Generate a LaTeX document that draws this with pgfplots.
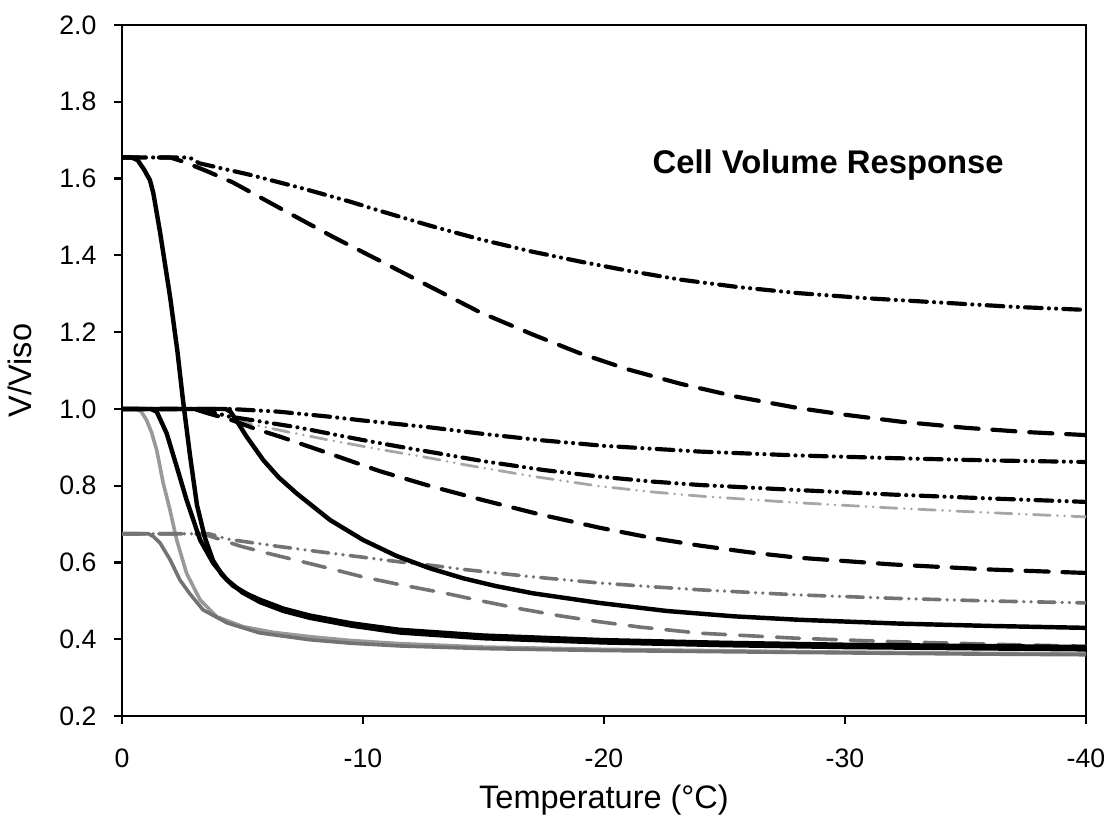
\documentclass[border=0pt]{standalone}
\usepackage{fontspec}
\setmainfont{Liberation Sans}
\usepackage{pgfplots}
\pgfplotsset{compat=1.18}
\tikzset{
  ddot/.style={dash pattern=on 6pt off 2.6pt on 0pt off 2.6pt on 0pt off 2.6pt, line cap=round},
  ldash/.style={dash pattern=on 8.3pt off 5pt, line cap=round},
}
\begin{document}
\begin{tikzpicture}
\begin{axis}[name=ax,
  width=347pt, height=248.8pt, scale only axis,
  xmin=-40, xmax=0, x dir=reverse, ymin=0.2, ymax=2.0,
  xtick={0,-10,-20,-30,-40}, xticklabels={0,-10,-20,-30,-40},
  ytick={0.2,0.4,0.6,0.8,1.0,1.2,1.4,1.6,1.8,2.0},
  yticklabels={0.2,0.4,0.6,0.8,1.0,1.2,1.4,1.6,1.8,2.0},
  tick align=outside, xtick pos=left, ytick pos=left, major tick length=2.9pt,
  tick style={black, line width=0.8pt},
  axis line style={line width=0.9pt},
  ticklabel style={font=\fontsize{9.6}{11}\selectfont, inner sep=0pt},
  yticklabel style={xshift=-6.1pt},
  xticklabel style={yshift=-8.6pt},
  every axis plot/.append style={line join=round},
]
% ---- gray curves ----
\addplot[black!40, line width=1.3pt] coordinates {
(0,1.0) (-0.6,1.0) (-0.8,0.993) (-1.02,0.971) (-1.22,0.94) (-1.44,0.893) (-1.71,0.807)
(-1.99,0.737) (-2.27,0.659) (-2.68,0.572) (-3.24,0.503) (-3.93,0.459) (-5.03,0.433)
(-6.3,0.418) (-7.8,0.407) (-9.5,0.397) (-11.5,0.389) (-15,0.38) (-20,0.374) (-28,0.368)
(-35,0.364) (-40,0.362)};
\addplot[black!55, line width=1.3pt] coordinates {
(0,0.675) (-1.1,0.675) (-1.3,0.668) (-1.58,0.651) (-2.0,0.607) (-2.4,0.555) (-2.8,0.52)
(-3.36,0.477) (-4.36,0.443) (-5.7,0.417) (-7.8,0.399) (-9.5,0.39) (-11.5,0.383)
(-15,0.376) (-20,0.371) (-28,0.366) (-35,0.362) (-40,0.36)};
\addplot[black!35, line width=1.0pt, ddot] coordinates {
(0,1.0) (-3.0,1.0) (-4.0,0.985) (-5.2,0.963) (-6.9,0.94) (-8.6,0.919) (-10.5,0.897)
(-12.8,0.872) (-14.2,0.855) (-17,0.825) (-19.8,0.799) (-22,0.784) (-24,0.773)
(-28,0.756) (-32,0.742) (-36,0.73) (-40,0.719)};
\addplot[black!55, line width=1.3pt, ddot] coordinates {
(0,0.675) (-3.6,0.675) (-4.48,0.66) (-6.5,0.642) (-8.6,0.625) (-11.5,0.602) (-12.8,0.593)
(-14.2,0.582) (-17,0.563) (-19.8,0.547) (-22,0.537) (-24,0.529) (-28,0.516) (-32,0.507)
(-36,0.5) (-40,0.495)};
\addplot[black!55, line width=1.3pt, ldash] coordinates {
(0,0.675) (-3.0,0.675) (-3.6,0.67) (-4.9,0.643) (-6,0.625) (-7.3,0.605) (-8.6,0.585)
(-10,0.5625) (-11.5,0.543) (-13.5,0.519) (-15,0.499) (-16.5,0.48) (-18.2,0.461)
(-19.8,0.446) (-21.5,0.432) (-24,0.416) (-28,0.403) (-32,0.394) (-37,0.386) (-40,0.382)};
% ---- black curves ----
\addplot[black, line width=1.5pt, ldash] coordinates {
(0,1.0) (-3.0,1.0) (-3.5,0.99) (-4.6,0.97) (-5.5,0.949) (-6.6,0.927) (-8.6,0.884)
(-10.7,0.838) (-12.8,0.799) (-14.9,0.764) (-17.3,0.726) (-19.8,0.691) (-22,0.664)
(-24,0.644) (-26,0.627) (-28,0.613) (-32,0.595) (-36,0.582) (-40,0.573)};
\addplot[black, line width=1.5pt, ddot] coordinates {
(0,1.0) (-3.2,1.0) (-4.48,0.98) (-5.8,0.967) (-7.3,0.952) (-8.6,0.936) (-10,0.919)
(-11.5,0.902) (-12.8,0.888) (-15,0.864) (-17.5,0.841) (-19.8,0.824) (-22,0.811)
(-24,0.802) (-28,0.789) (-32,0.777) (-36,0.767) (-40,0.758)};
\addplot[black, line width=1.5pt, ddot] coordinates {
(0,1.0) (-4.5,1.0) (-6.5,0.993) (-8.6,0.98) (-10,0.97) (-12.8,0.952) (-15,0.935)
(-17.5,0.918) (-20,0.904) (-24,0.889) (-28,0.879) (-32,0.872) (-36,0.866) (-40,0.862)};
\addplot[black, line width=1.5pt, ldash] coordinates {
(0,1.655) (-2.0,1.655) (-2.5,1.645) (-3.5,1.62) (-4.6,1.59) (-6.7,1.518) (-8.76,1.448)
(-10.7,1.386) (-12.8,1.318) (-14.85,1.252) (-17,1.195) (-19.0,1.145) (-21,1.103)
(-23.15,1.066) (-25.5,1.032) (-28.0,1.003) (-30,0.985) (-32.3,0.967) (-35,0.951)
(-37.5,0.94) (-40,0.932)};
\addplot[black, line width=1.5pt, ddot] coordinates {
(0,1.655) (-2.8,1.655) (-3.2,1.64) (-5.3,1.61) (-7.4,1.576) (-9.46,1.54) (-10.7,1.516)
(-12.8,1.477) (-14.85,1.442) (-17,1.41) (-19.0,1.384) (-21,1.36) (-23.15,1.337)
(-25.5,1.318) (-28.0,1.302) (-31,1.288) (-34,1.277) (-37,1.266) (-40,1.258)};
\addplot[black, line width=1.6pt] coordinates {
(0,1.0) (-4.3,1.0) (-4.5,0.993) (-4.8,0.965) (-5.17,0.928) (-5.86,0.867) (-6.5,0.822)
(-7.25,0.78) (-8.63,0.711) (-10.0,0.659) (-11.4,0.617) (-12.78,0.585) (-14.16,0.559)
(-15.5,0.539) (-17.05,0.52) (-19.8,0.495) (-22.6,0.474) (-25.4,0.46) (-28.1,0.451)
(-32.3,0.441) (-36,0.435) (-40,0.43)};
\addplot[black, line width=1.6pt] coordinates {
(0,1.0) (-1.2,1.0) (-1.44,0.993) (-1.85,0.937) (-2.27,0.85) (-2.68,0.763) (-3.24,0.659)
(-3.79,0.598) (-4.34,0.556) (-5.0,0.522) (-5.73,0.497) (-6.7,0.474) (-7.8,0.456)
(-9.5,0.436) (-11.5,0.418) (-15,0.403) (-20,0.392) (-25,0.385) (-30,0.38) (-35,0.377)
(-40,0.374)};
\addplot[black, line width=1.6pt] coordinates {
(0,1.655) (-0.4,1.655) (-0.65,1.648) (-0.9,1.625) (-1.16,1.596) (-1.3,1.562) (-1.58,1.46)
(-2.0,1.29) (-2.3,1.15) (-2.53,1.023) (-2.82,0.88) (-3.11,0.75) (-3.44,0.665)
(-3.78,0.605) (-4.15,0.568) (-4.6,0.54) (-5.2,0.518) (-5.73,0.503) (-6.7,0.48)
(-7.8,0.462) (-9.5,0.442) (-11.5,0.425) (-15,0.41) (-20,0.398) (-25,0.391) (-30,0.386)
(-35,0.383) (-40,0.38)};
\node[font=\bfseries\fontsize{11.8}{14}\selectfont] at (axis cs:-29.3,1.635) {Cell Volume Response};
\end{axis}
\node[rotate=90, inner sep=0pt, font=\fontsize{11.7}{14}\selectfont] at ([xshift=-36.7pt]ax.west) {V/Viso};
\node[inner sep=0pt, font=\fontsize{11.7}{14}\selectfont] at ([yshift=-30.2pt]ax.south) {Temperature (°C)};
\path ([xshift=-43.92pt,yshift=-40.68pt]ax.south west) rectangle ([xshift=9pt,yshift=9pt]ax.north east);
\end{tikzpicture}
\end{document}
